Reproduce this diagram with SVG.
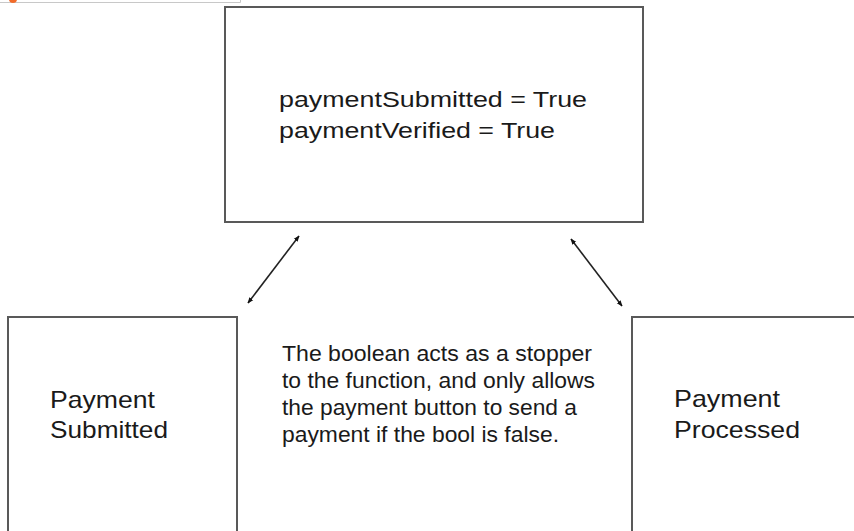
<svg xmlns="http://www.w3.org/2000/svg" width="854" height="531" viewBox="0 0 854 531">
<style>
.box{fill:#fff;stroke:#595959;stroke-width:2}
.t{font-family:"Liberation Sans",Arial,sans-serif;fill:#1a1a1a}
.big{font-size:24px}
.mid{font-size:22px}
.conn{stroke:#222;stroke-width:1.6;fill:none;marker-start:url(#ah);marker-end:url(#ah)}
</style>
<defs>
<marker id="ah" viewBox="0 0 10 10" refX="9" refY="5" markerWidth="6" markerHeight="6" orient="auto-start-reverse" markerUnits="userSpaceOnUse">
<path d="M0,1 L10,5 L0,9 Z" fill="#111"/>
</marker>
</defs>
<rect width="854" height="531" fill="#fff"/>
<g id="artifact">
<path d="M0,2.5 H240.5 V0" fill="none" stroke="#c8c8c8" stroke-width="1"/>
<circle cx="13" cy="-1" r="4" fill="#f26b2a"/>
</g>
<g id="state">
<rect class="box" x="225" y="7" width="418" height="215"/>
<text class="t mid" x="279" y="107" textLength="308" lengthAdjust="spacingAndGlyphs">paymentSubmitted = True</text>
<text class="t mid" x="279" y="138" textLength="276" lengthAdjust="spacingAndGlyphs">paymentVerified = True</text>
</g>
<g id="submitted">
<rect class="box" x="8" y="317" width="229" height="230"/>
<text class="t big" x="50" y="408" textLength="105" lengthAdjust="spacingAndGlyphs">Payment</text>
<text class="t big" x="50" y="438" textLength="118" lengthAdjust="spacingAndGlyphs">Submitted</text>
</g>
<g id="processed">
<rect class="box" x="632" y="317" width="240" height="230"/>
<text class="t big" x="674" y="407" textLength="106" lengthAdjust="spacingAndGlyphs">Payment</text>
<text class="t big" x="674" y="438" textLength="126" lengthAdjust="spacingAndGlyphs">Processed</text>
</g>
<g id="note">
<text class="t mid" x="282" y="361" textLength="310" lengthAdjust="spacingAndGlyphs">The boolean acts as a stopper</text>
<text class="t mid" x="282" y="388" textLength="313" lengthAdjust="spacingAndGlyphs">to the function, and only allows</text>
<text class="t mid" x="282" y="415" textLength="295" lengthAdjust="spacingAndGlyphs">the payment button to send a</text>
<text class="t mid" x="282" y="442" textLength="277" lengthAdjust="spacingAndGlyphs">payment if the bool is false.</text>
</g>
<g id="connectors">
<line class="conn" x1="299" y1="236" x2="248" y2="303"/>
<line class="conn" x1="571" y1="239" x2="622" y2="306"/>
</g>
</svg>
